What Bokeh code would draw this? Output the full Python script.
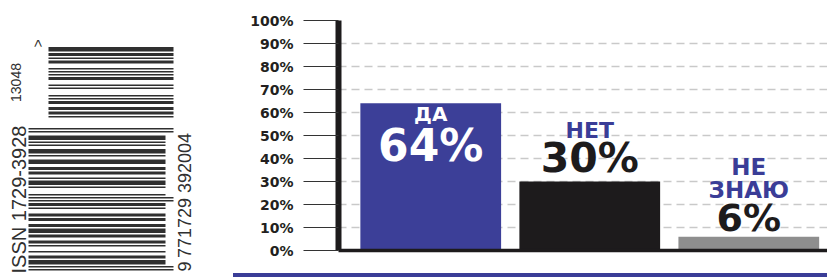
from bokeh.plotting import figure
from bokeh.models import Range1d, FixedTicker, ColumnDataSource, Div
from bokeh.layouts import row, column
from bokeh.embed import file_html
from bokeh.resources import INLINE
from bokeh.core.properties import value
import math

# ---------------- data ----------------
categories = ["ДА", "НЕТ", "НЕ ЗНАЮ"]
shares = [64, 30, 6]
y_ticks = [0, 10, 20, 30, 40, 50, 60, 70, 80, 90, 100]
y_tick_labels = ["0%", "10%", "20%", "30%", "40%", "50%", "60%", "70%", "80%", "90%", "100%"]

issn_text = "ISSN 1729-3928"
ean13_digits = "9771729392004"
addon_digits = "13048"

# ---------------- styles ----------------
BAR_COLORS = ["#3c3f98", "#1d1b1c", "#8e8e8e"]
BLUE = "#3a3d97"
INK = "#1d1b1c"
FONT = "DejaVu Sans"
BC_FONT = "Liberation Sans"

# ---------------- barcode (EAN-13 + EAN-5 add-on) ----------------
L = ["0001101", "0011001", "0010011", "0111101", "0100011",
     "0110001", "0101111", "0111011", "0110111", "0001011"]
R = ["".join("1" if c == "0" else "0" for c in s) for s in L]
G = [s[::-1] for s in R]
PAR13 = ["LLLLLL", "LLGLGG", "LLGGLG", "LLGGGL", "LGLLGG",
         "LGGLLG", "LGGGLL", "LGLGLG", "LGLGGL", "LGGLGL"]
PAR5 = ["GGLLL", "GLGLL", "GLLGL", "GLLLG", "LGGLL",
        "LLGGL", "LLLGG", "LGLGL", "LGLLG", "LLGLG"]


def ean13(d):
    par = PAR13[int(d[0])]
    s = "101"
    for i, c in enumerate(d[1:7]):
        s += (L if par[i] == "L" else G)[int(c)]
    s += "01010"
    for c in d[7:]:
        s += R[int(c)]
    return s + "101"


def ean5(d):
    cs = (3 * (int(d[0]) + int(d[2]) + int(d[4])) + 9 * (int(d[1]) + int(d[3]))) % 10
    par = PAR5[cs]
    s = "1011"
    for i, c in enumerate(d):
        if i:
            s += "01"
        s += (L if par[i] == "L" else G)[int(c)]
    return s


def runs(mods):
    out = []
    i = 0
    while i < len(mods):
        if mods[i] == "1":
            j = i
            while j < len(mods) and mods[j] == "1":
                j += 1
            out.append((i, j))
            i = j
        else:
            i += 1
    return out


MOD = 1.5
main_mods = ean13(ean13_digits)
guards = set(list(range(0, 3)) + list(range(45, 50)) + list(range(92, 95)))
bl, br, bt, bb = [], [], [], []
for a, b in runs(main_mods):
    bl.append(28)
    br.append(173 if a in guards else 165)
    bb.append(270 - a * MOD)
    bt.append(270 - b * MOD)
for a, b in runs(ean5(addon_digits)):
    bl.append(48)
    br.append(173)
    bb.append(117 - a * MOD)
    bt.append(117 - b * MOD)

bc = figure(width=233, height=277, x_range=Range1d(0, 233), y_range=Range1d(277, 0),
            min_border=0, x_axis_location=None, y_axis_location=None,
            outline_line_color=None, toolbar_location=None, output_backend="svg",
            background_fill_color="white", border_fill_color="white")
bc.grid.visible = False
bc.quad(left=bl, right=br, top=bt, bottom=bb, color="#303030", line_color=None)

bc_text = ColumnDataSource(dict(
    x=[18, 184, 184, 15, 37],
    y=[199, 195, 266, 82, 43],
    t=[issn_text, ean13_digits[1:7] + " " + ean13_digits[7:], ean13_digits[0], addon_digits, ">"],
    s=["20px", "18px", "18px", "14px", "14px"],
))
bc.text(x="x", y="y", text="t", source=bc_text, angle=math.pi / 2,
        text_align="center", text_baseline="middle", text_font=value(BC_FONT),
        text_font_size="s", text_color="#303030")

# ---------------- chart ----------------
xs = list(range(len(categories)))
p = figure(width=594, height=273, x_range=Range1d(-0.58, 2.495), y_range=Range1d(0, 100),
           output_backend="svg", toolbar_location=None,
           min_border_left=105, min_border_right=0, min_border_top=20, min_border_bottom=23,
           outline_line_color=None, background_fill_color="white", border_fill_color="white")

p.vbar(x=xs, top=shares, width=0.885, color=BAR_COLORS, line_color=None)

# y axis
p.yaxis.ticker = FixedTicker(ticks=y_ticks)
p.yaxis.major_label_overrides = {t: lab for t, lab in zip(y_ticks, y_tick_labels)}
p.yaxis.bounds = (0, 100)
p.yaxis.axis_line_width = 6
p.yaxis.axis_line_color = INK
p.yaxis.major_tick_out = 35
p.yaxis.major_tick_in = 0
p.yaxis.major_tick_line_color = "#333333"
p.yaxis.major_tick_line_width = 1.2
p.yaxis.minor_tick_line_color = None
p.yaxis.major_label_standoff = 10
p.yaxis.major_label_text_font = FONT
p.yaxis.major_label_text_font_style = "bold"
p.yaxis.major_label_text_font_size = "14px"
p.yaxis.major_label_text_color = "#231f20"

# x axis = baseline only
p.xaxis.ticker = FixedTicker(ticks=[])
p.xaxis.axis_line_width = 3.5
p.xaxis.axis_line_color = INK
p.xaxis.major_tick_line_color = None
p.xaxis.minor_tick_line_color = None
p.xaxis.major_label_text_font_size = "0px"
p.xaxis.major_label_standoff = 0

p.xgrid.visible = False
p.ygrid.ticker = FixedTicker(ticks=y_ticks)
p.ygrid.grid_line_color = "#c9c9c9"
p.ygrid.grid_line_dash = "8 5"
p.ygrid.grid_line_width = 1.5

# bar labels
cat_words = [c.split() for c in categories]
lx, ly, lt, off, size, col = [], [], [], [], [], []
# layout per bar: (word offsets px, word size, word colour, pct offset px, pct size, pct colour)
layout = [
    ([10.4], "20px", "white", 41.8, "44px", "white"),
    ([-51.1], "22px", BLUE, -23.3, "41px", INK),
    ([-69.7, -46.7], "23px", BLUE, -18.9, "38px", INK),
]
for i, (words, s) in enumerate(zip(cat_words, shares)):
    w_off, w_size, w_col, p_off, p_size, p_col = layout[i]
    for w, o in zip(words, w_off):
        lx.append(xs[i]); ly.append(s); lt.append(w); off.append(o); size.append(w_size); col.append(w_col)
    lx.append(xs[i]); ly.append(s); lt.append(f"{s}%"); off.append(p_off); size.append(p_size); col.append(p_col)

lab_src = ColumnDataSource(dict(x=lx, y=ly, t=lt, off=off, size=size, col=col))
p.text(x="x", y="y", text="t", source=lab_src, y_offset="off", text_align="center",
       text_baseline="alphabetic", text_font=value(FONT), text_font_style="bold",
       text_font_size="size", text_color="col")

blue_line = Div(text="", width=594, height=4, margin=0,
                styles={"background-color": BLUE})

layout_all = row(bc, column(p, blue_line))

open("out.html", "w").write(file_html(layout_all, INLINE))
